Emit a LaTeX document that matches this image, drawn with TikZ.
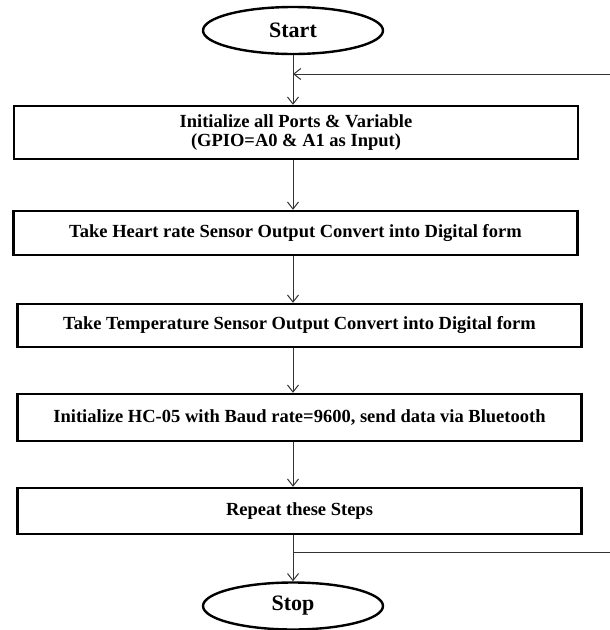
\documentclass[tikz,border=0pt]{standalone}
\usepackage{fontspec}
\setmainfont{Liberation Serif}
\usetikzlibrary{arrows.meta,shapes.geometric}

\begin{document}
\begin{tikzpicture}[x=1pt, y=-1pt, > = {Straight Barb[length=7pt,width=11pt]}, terminal/.style = {draw, ellipse, line width=2.4pt, inner sep=0pt, minimum width=180pt, minimum height=47pt, font=\fontsize{22}{24}\selectfont\bfseries}, process/.style = {draw, rectangle, line width=2.4pt, inner sep=0pt, minimum width=564pt, align=center, font=\fontsize{18.5}{19}\selectfont\bfseries}, flow/.style = {line width=1pt, black!80}]

    \useasboundingbox (0,0) rectangle (610,630);

    % terminals
    \node[terminal] (start) at (293,30.5) {Start};
    \node[terminal] (stop) at (293,606) {Stop};

    % steps
    \node[process, minimum height=53pt] (init) at (296,132.5) {Initialize all Ports \& Variable\\(GPIO=A0 \& A1 as Input)};
    \node[process, minimum height=44pt] (heart) at (295.5,233) {Take Heart rate Sensor Output Convert into Digital form};
    \node[process, minimum height=43pt] (temp) at (299.5,325.5) {Take Temperature Sensor Output Convert into Digital form};
    \node[process, minimum height=47pt] (hc) at (299.5,417.5) {Initialize HC-05 with Baud rate=9600, send data via Bluetooth};
    \node[process, minimum height=46pt] (again) at (299.5,511) {Repeat these Steps};

    % links
    \draw[flow, ->] (start) -- (start |- init.north);
    \draw[flow, ->] (start |- init.south) -- (start |- heart.north);
    \draw[flow, ->] (start |- heart.south) -- (start |- temp.north);
    \draw[flow, ->] (start |- temp.south) -- (start |- hc.north);
    \draw[flow, ->] (start |- hc.south) -- (start |- again.north);
    \draw[flow, ->] (start |- again.south) -- (stop);

    % loop back
    \coordinate (backin) at (610,74);
    \coordinate (backout) at (610,552);
    \draw[flow, ->] (backin) -- (backin -| start);
    \draw[flow] (backout) -- (backout -| start);

\end{tikzpicture}
\end{document}
